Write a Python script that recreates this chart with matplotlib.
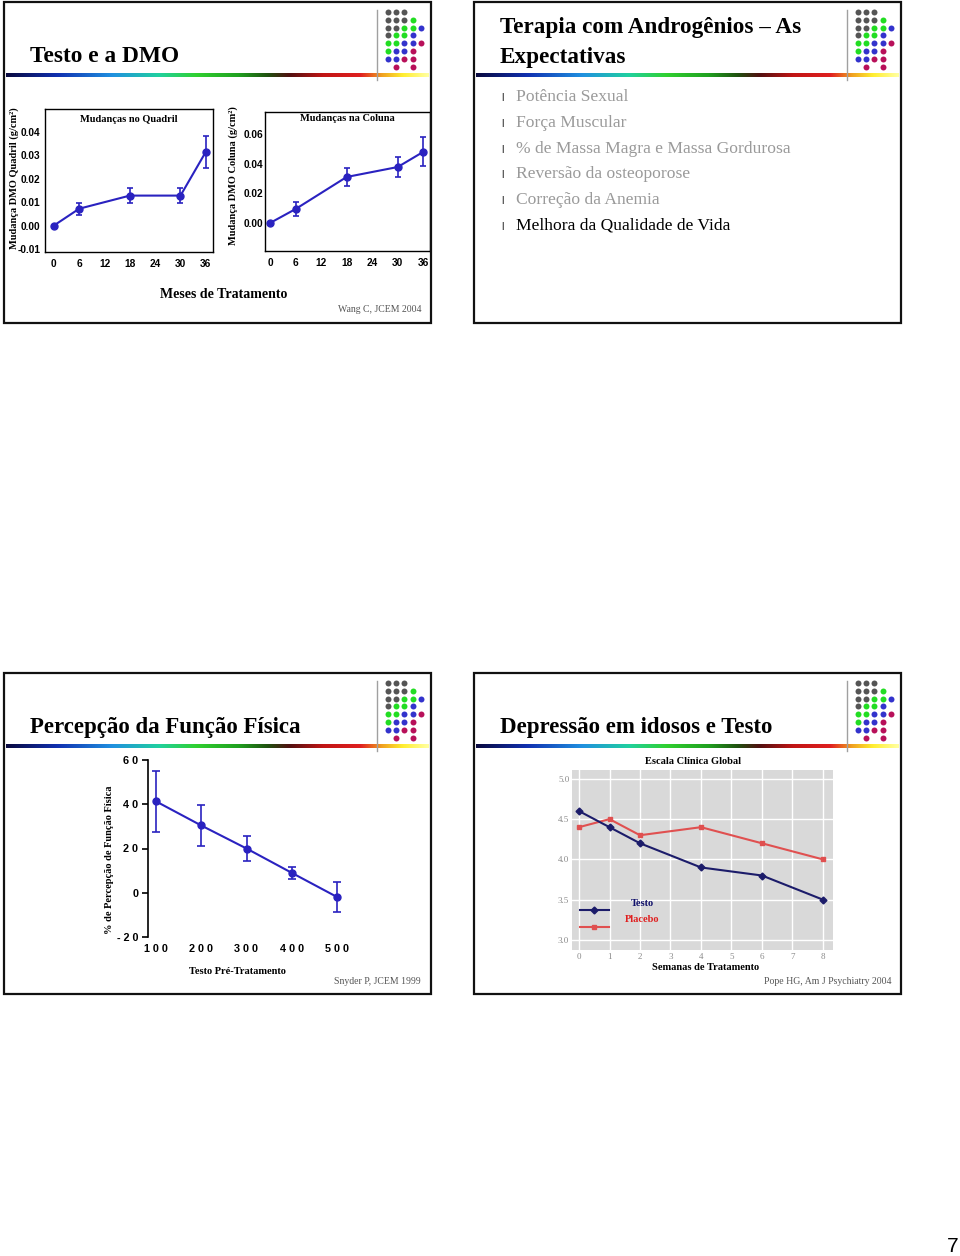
import numpy as np
import matplotlib.pyplot as plt
from matplotlib.colors import LinearSegmentedColormap
from matplotlib.patches import Rectangle
from matplotlib.ticker import FormatStrFormatter, FuncFormatter

W, H = 960, 1256
SERIF = 'Liberation Serif'
SANS = 'Liberation Sans'

# ---- data ----
meses = [0, 6, 18, 30, 36]
meses_ticks = [0, 6, 12, 18, 24, 30, 36]
quadril = [0.000, 0.0072, 0.0128, 0.0128, 0.0315]
quadril_err = [0.0, 0.0026, 0.0033, 0.0033, 0.0068]
coluna = [0.000, 0.0094, 0.0310, 0.0377, 0.0479]
coluna_err = [0.0, 0.0045, 0.0058, 0.0065, 0.0098]

testo_pre = [100, 200, 300, 400, 500]
funcao = [41.3, 30.4, 20.0, 9.0, -1.9]
funcao_err = [13.7, 9.2, 5.6, 2.8, 6.7]

semanas = [0, 1, 2, 4, 6, 8]
testo_cgi = [4.6, 4.4, 4.2, 3.9, 3.8, 3.5]
placebo_cgi = [4.4, 4.5, 4.3, 4.4, 4.2, 4.0]

expectativas = ["Potência Sexual", "Força Muscular",
                "% de Massa Magra e Massa Gordurosa",
                "Reversão da osteoporose", "Correção da Anemia",
                "Melhora da Qualidade de Vida"]
expect_cores = ['#9a9a9a'] * 5 + ['#000000']

blue = '#2a22c0'


def rect(x0, y0, x1, y1):
    # pixel box (top-left origin) -> figure fraction
    return [x0 / W, 1 - y1 / H, (x1 - x0) / W, (y1 - y0) / H]


fig = plt.figure(figsize=(W / 100, H / 100), dpi=100)
ov = fig.add_axes([0, 0, 1, 1])
ov.set_xlim(0, W)
ov.set_ylim(H, 0)
ov.axis('off')
ov.set_zorder(10)

grad_cmap = LinearSegmentedColormap.from_list('rainbow_bar', [
    (0.00, '#0a0a40'), (0.12, '#1030b0'), (0.25, '#2090e0'),
    (0.36, '#20d0a0'), (0.45, '#30d030'), (0.55, '#20a020'),
    (0.62, '#205010'), (0.67, '#501010'), (0.75, '#c01515'),
    (0.84, '#e02020'), (0.89, '#f0a020'), (0.94, '#ffee30'),
    (1.00, '#ffffa0')])
grad = np.linspace(0, 1, 256)[None, :]

logo = ["kkk", "kkkg", "kkggb", "kggb", "ggbbm", "gbbm", "bbmm", " m m"]
logo_cores = {'k': '#555555', 'g': '#22dd22', 'b': '#3333cc', 'm': '#b8105a'}


def slide(x0, y0, titles, baselines, size=16.6):
    ov.add_patch(Rectangle((x0, y0), 427, 321, fill=False, lw=1.6, ec='#111111'))
    for t, b in zip(titles, baselines):
        ov.text(x0 + 26, y0 + b, t, fontsize=size, fontweight='bold',
                family=SERIF, va='baseline')
    gax = fig.add_axes(rect(x0 + 2, y0 + 71, x0 + 425, y0 + 75))
    gax.imshow(grad, aspect='auto', cmap=grad_cmap)
    gax.axis('off')
    ov.plot([x0 + 373, x0 + 373], [y0 + 8, y0 + 78], color='#a0a0a0', lw=1)
    for r, row in enumerate(logo):
        for c, ch in enumerate(row):
            if ch != ' ':
                ov.plot(x0 + 384 + c * 8.2, y0 + 10 + r * 7.8, 'o', ms=4.3,
                        color=logo_cores[ch], mec='none')


slide(4, 2, ["Testo e a DMO"], [60], 16.8)
slide(474, 2, ["Terapia com Androgênios – As", "Expectativas"], [31, 61], 16.7)
slide(4, 673, ["Percepção da Função Física"], [60], 16.5)
slide(474, 673, ["Depressão em idosos e Testo"], [60], 16.5)

# ---- slide 1: DMO ----
def dmo_axes(box, y, err, ylim, yticks, titulo, ty, pad):
    ax = fig.add_axes(rect(*box))
    ax.set_facecolor('none')
    ax.errorbar(meses, y, yerr=err, color=blue, lw=1.5, marker='o', ms=5,
                capsize=2, elinewidth=1.2, capthick=1.2)
    ax.set_xticks(meses_ticks)
    ax.set_yticks(yticks)
    ax.set_ylim(*ylim)
    ax.yaxis.set_major_formatter(FormatStrFormatter('%.2f'))
    ax.tick_params(axis='x', length=0, pad=5)
    ax.tick_params(axis='y', length=0, pad=pad)
    for lab in ax.get_xticklabels() + ax.get_yticklabels():
        lab.set_fontfamily(SANS)
        lab.set_fontweight('bold')
        lab.set_fontsize(7.3)
    for s in ax.spines.values():
        s.set_linewidth(1.0)
    ax.text(0.5, ty, titulo, transform=ax.transAxes, ha='center', va='center',
            fontsize=7.5, fontweight='bold', family=SERIF)
    return ax


ax1 = dmo_axes((45, 109, 213, 252), quadril, quadril_err, (-0.0113, 0.0498),
               [-0.01, 0.0, 0.01, 0.02, 0.03, 0.04], "Mudanças no Quadril", 0.93, 3.5)
ax1.set_xlim(-2.1, 37.7)
ax2 = dmo_axes((265, 112, 430, 251), coluna, coluna_err, (-0.0189, 0.0748),
               [0.0, 0.02, 0.04, 0.06], "Mudanças na Coluna", 0.95, 1.5)
ax2.set_xlim(-1.2, 37.6)

ov.text(14, 178, "Mudança DMO Quadril (g/cm²)", rotation=90, ha='center', va='center',
        fontsize=7.5, fontweight='bold', family=SERIF)
ov.text(233, 176, "Mudança DMO Coluna (g/cm²)", rotation=90, ha='center', va='center',
        fontsize=7.5, fontweight='bold', family=SERIF)
ov.text(224, 295, "Meses de Tratamento", ha='center', va='center',
        fontsize=10, fontweight='bold', family=SERIF)
ov.text(421, 310, "Wang C, JCEM 2004", ha='right', va='center',
        fontsize=7, color='#555555', family=SERIF)

# ---- slide 2: bullets ----
for i, (txt, cor) in enumerate(zip(expectativas, expect_cores)):
    yy = 97 + i * 25.8
    ov.text(503, yy + 1, "l", ha='center', va='center', fontsize=8,
            color='#333333', family=SANS)
    ov.text(516, yy, txt, ha='left', va='center', fontsize=12.6,
            color=cor, family=SERIF)

# ---- slide 3: funcao fisica ----
ax3 = fig.add_axes(rect(148, 760, 345, 937))
ax3.set_facecolor('none')
ax3.errorbar(testo_pre, funcao, yerr=funcao_err, color=blue, lw=1.5, marker='o',
             ms=5, capsize=3, elinewidth=1.2, capthick=1.2)
ax3.set_xlim(82.3, 517.7)
ax3.set_ylim(-20, 60)
ax3.set_xticks(testo_pre)
ax3.set_yticks([-20, 0, 20, 40, 60])
spaced = FuncFormatter(lambda v, p: ' '.join(str(int(round(v)))))
ax3.xaxis.set_major_formatter(spaced)
ax3.yaxis.set_major_formatter(spaced)
for s in ['top', 'right', 'bottom']:
    ax3.spines[s].set_visible(False)
ax3.spines['left'].set_linewidth(1.2)
ax3.tick_params(axis='x', length=0, pad=5)
ax3.tick_params(axis='y', length=4, width=1.2, pad=3)
for lab in ax3.get_xticklabels() + ax3.get_yticklabels():
    lab.set_fontfamily(SANS)
    lab.set_fontweight('bold')
    lab.set_fontsize(7.8)
ov.text(109, 860, "% de Percepção de Função Física", rotation=90, ha='center',
        va='center', fontsize=7.5, fontweight='bold', family=SERIF)
ov.text(237, 971, "Testo Pré-Tratamento", ha='center', va='center',
        fontsize=7.5, fontweight='bold', family=SERIF)
ov.text(421, 981, "Snyder P, JCEM 1999", ha='right', va='center',
        fontsize=7, color='#555555', family=SERIF)

# ---- slide 4: depressao ----
ax4 = fig.add_axes(rect(572, 770, 833, 950))
ax4.set_facecolor('#d9d9d9')
ax4.set_axisbelow(True)
ax4.grid(True, color='white', lw=1.0)
navy = '#1c1c6a'
red = '#e05050'
ax4.plot(semanas, placebo_cgi, color=red, lw=1.5, marker='s', ms=3.5)
ax4.plot(semanas, testo_cgi, color=navy, lw=1.5, marker='D', ms=3.5)
ax4.set_xlim(-0.23, 8.33)
ax4.set_ylim(2.875, 5.11)
ax4.set_xticks(range(0, 9))
ax4.set_yticks([3.0, 3.5, 4.0, 4.5, 5.0])
ax4.yaxis.set_major_formatter(FormatStrFormatter('%.1f'))
for s in ax4.spines.values():
    s.set_visible(False)
ax4.tick_params(length=0, pad=2, labelsize=6.5, labelcolor='#8a8a8a')
for lab in ax4.get_xticklabels() + ax4.get_yticklabels():
    lab.set_fontfamily(SERIF)
# legend glyphs
for yy, cor, mk in [(0.222, navy, 'D'), (0.128, red, 's')]:
    ax4.plot([0.03, 0.085, 0.14], [yy, yy, yy], transform=ax4.transAxes,
             color=cor, lw=1.5, marker=mk, ms=3.5, markevery=[1], clip_on=False)
ov.text(642, 903, "Testo", ha='center', va='center', fontsize=7.5,
        fontweight='bold', color='#10106a', family=SERIF)
ov.text(642, 920, "Placebo", ha='center', va='center', fontsize=7.5,
        fontweight='bold', color='#e02020', family=SERIF)
ov.text(693, 762, "Escala Clínica Global", ha='center', va='center',
        fontsize=7.5, fontweight='bold', family=SERIF)
ov.text(706, 968, "Semanas de Tratamento", ha='center', va='center',
        fontsize=7.5, fontweight='bold', family=SERIF)
ov.text(892, 981, "Pope HG, Am J Psychiatry 2004", ha='right', va='center',
        fontsize=7, color='#555555', family=SERIF)

ov.text(958, 1246, "7", ha='right', va='center', fontsize=15, family=SANS)

fig.savefig('out.png', dpi=100)
